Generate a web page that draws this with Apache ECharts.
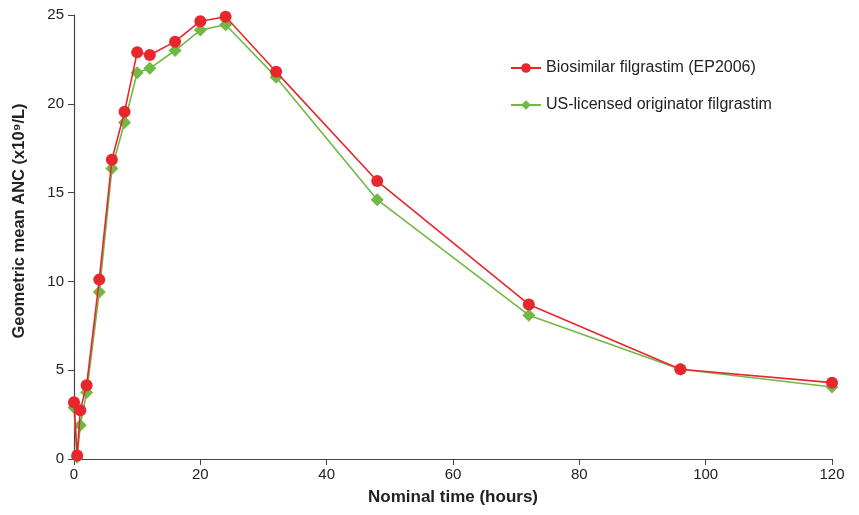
<!DOCTYPE html>
<html><head><meta charset="utf-8">
<script src="https://cdn.jsdelivr.net/npm/echarts@6/dist/echarts.min.js"></script>
<style>html,body{margin:0;padding:0;background:#fff}#c{width:859px;height:515px}</style>
</head><body><div id="c"></div>
<script>
const times = [0, 0.5, 1, 2, 4, 6, 8, 10, 12, 16, 20, 24, 32, 48, 72, 96, 120];
const biosimilar = [3.2, 0.2, 2.75, 4.15, 10.1, 16.85, 19.55, 22.9, 22.75, 23.5, 24.65, 24.9, 21.8, 15.65, 8.7, 5.05, 4.3];
const originator = [2.9, 0.1, 1.9, 3.75, 9.4, 16.35, 18.95, 21.75, 22.0, 23.0, 24.15, 24.45, 21.5, 14.6, 8.1, 5.05, 4.05];
const seriesNames = ['Biosimilar filgrastim (EP2006)', 'US-licensed originator filgrastim'];
const xTitle = 'Nominal time (hours)';
const yTitle = 'Geometric mean ANC (x10⁹/L)';

const font = 'Liberation Sans, Arial, Helvetica, sans-serif';
const chart = echarts.init(document.getElementById('c'));
const axisLine = {show: true, lineStyle: {color: '#444', width: 1.2}};
chart.setOption({
  animation: false,
  textStyle: {fontFamily: font},
  grid: {left: 74, right: 27, top: 15, bottom: 56},
  legend: {
    orient: 'vertical', left: 505, top: 55, itemGap: 21, itemWidth: 30, itemHeight: 12,
    textStyle: {fontFamily: font, fontSize: 16, color: '#222'},
    data: seriesNames
  },
  xAxis: {
    type: 'value', min: 0, max: 120, interval: 20,
    name: xTitle, nameLocation: 'middle', nameGap: 30,
    nameTextStyle: {fontFamily: font, fontSize: 17, fontWeight: 'bold', color: '#222'},
    axisLine: axisLine, axisTick: {show: true, length: 6, lineStyle: {color: '#444'}},
    axisLabel: {fontFamily: font, fontSize: 15, color: '#222', margin: 8},
    splitLine: {show: false}
  },
  yAxis: {
    type: 'value', min: 0, max: 25, interval: 5,
    name: yTitle, nameLocation: 'middle', nameGap: 46, nameRotate: 90,
    nameTextStyle: {fontFamily: font, fontSize: 16.5, fontWeight: 'bold', color: '#222', padding: [0, 0, 0, 32]},
    axisLine: axisLine, axisTick: {show: true, length: 6, lineStyle: {color: '#444'}},
    axisLabel: {fontFamily: font, fontSize: 15, color: '#222', margin: 10},
    splitLine: {show: false}
  },
  series: [
    {
      name: seriesNames[1], type: 'line', symbol: 'diamond', symbolSize: 13,
      data: times.map((t, i) => [t, originator[i]]),
      itemStyle: {color: '#72b844'}, lineStyle: {color: '#72b844', width: 1.6}, z: 2
    },
    {
      name: seriesNames[0], type: 'line', symbol: 'circle', symbolSize: 12,
      data: times.map((t, i) => [t, biosimilar[i]]),
      itemStyle: {color: '#e8262e'}, lineStyle: {color: '#e8262e', width: 1.6}, z: 3
    }
  ]
});
</script></body></html>
